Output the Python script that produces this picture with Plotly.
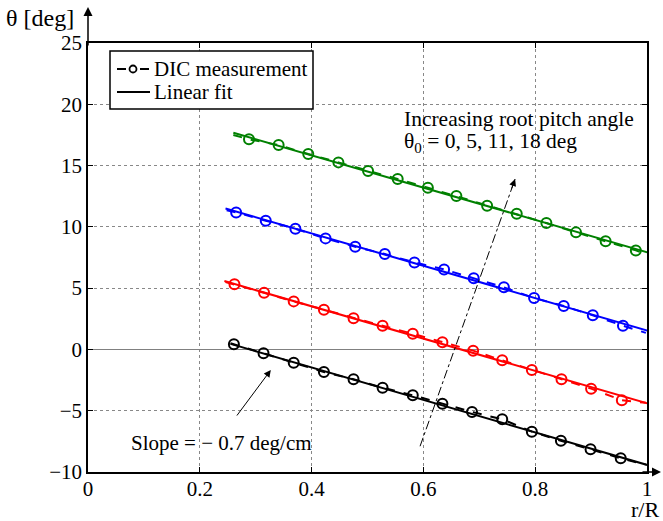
import plotly.graph_objects as go

# ---------------- data ----------------
series_names = ["0 deg", "5 deg", "11 deg", "18 deg"]
series_colors = ["#000000", "#ff0000", "#0000ff", "#008000"]

# DIC measurement marker positions (r/R) and values (deg)
x_black = [0.261, 0.314, 0.368, 0.422, 0.475, 0.527, 0.581, 0.634, 0.687, 0.741, 0.794, 0.846, 0.899, 0.953]
y_black = [0.42, -0.32, -1.08, -1.84, -2.44, -3.12, -3.74, -4.43, -5.10, -5.70, -6.71, -7.45, -8.15, -8.88]

x_red = [0.262, 0.315, 0.368, 0.422, 0.475, 0.527, 0.581, 0.634, 0.689, 0.741, 0.794, 0.847, 0.900, 0.955]
y_red = [5.31, 4.62, 3.92, 3.24, 2.54, 1.93, 1.28, 0.58, -0.10, -0.89, -1.68, -2.44, -3.20, -4.15]

x_blue = [0.265, 0.318, 0.371, 0.425, 0.478, 0.531, 0.584, 0.637, 0.690, 0.744, 0.798, 0.851, 0.903, 0.957]
y_blue = [11.18, 10.50, 9.85, 9.06, 8.38, 7.78, 7.10, 6.53, 5.80, 5.07, 4.19, 3.54, 2.78, 1.93]

x_green = [0.288, 0.341, 0.394, 0.448, 0.501, 0.554, 0.608, 0.659, 0.714, 0.767, 0.820, 0.873, 0.926, 0.980]
y_green = [17.14, 16.67, 15.94, 15.26, 14.55, 13.90, 13.19, 12.51, 11.72, 11.07, 10.31, 9.55, 8.82, 8.08]

# DIC measurement start / end of dense record (unmarked)
dic_x_start = [0.255, 0.246, 0.248, 0.260]
dic_y_start = [0.50, 5.50, 11.35, 17.50]
dic_x_end = [0.998, 0.998, 0.998, 0.998]
dic_y_end = [-9.40, -4.35, 1.35, 7.75]

# Linear fit end points
fit_x_start = [0.255, 0.244, 0.246, 0.260]
fit_y_start = [0.45, 5.58, 11.50, 17.68]
fit_x_end = [1.007, 1.007, 1.007, 1.007]
fit_y_end = [-9.51, -4.48, 1.45, 7.84]

# trend arrow (dash-dot) tail and head
trend_x = [0.594, 0.764]
trend_y = [-7.9, 13.9]

x_ticks = [0, 0.2, 0.4, 0.6, 0.8, 1]
x_tick_text = ["0", "0.2", "0.4", "0.6", "0.8", "1"]
y_ticks = [-10, -5, 0, 5, 10, 15, 20, 25]
y_tick_text = ["\u221210", "\u22125", "0", "5", "10", "15", "20", "25"]

legend_labels = ["DIC measurement", "Linear fit"]

marker_x = [x_black, x_red, x_blue, x_green]
marker_y = [y_black, y_red, y_blue, y_green]

FONT = "Liberation Serif, Times New Roman, serif"

# plot-area geometry (pixels) used for paper-coordinate placement of decorations
W, H = 663, 521
ML, MR, MT, MB = 88, 16, 43, 49
PW, PH = W - ML - MR, H - MT - MB


def px(xp):
    return (xp - ML) / PW


def py(yp):
    return (H - MB - yp) / PH


fig = go.Figure()

for i in range(4):
    c = series_colors[i]
    fig.add_trace(go.Scatter(
        x=[dic_x_start[i]] + marker_x[i] + [dic_x_end[i]],
        y=[dic_y_start[i]] + marker_y[i] + [dic_y_end[i]],
        mode="lines", line=dict(color=c, width=2, dash="dash"),
        showlegend=False, hoverinfo="skip"))
    fig.add_trace(go.Scatter(
        x=marker_x[i], y=marker_y[i], mode="markers",
        marker=dict(symbol="circle-open", size=10, color=c, line=dict(width=2, color=c)),
        showlegend=False, name=series_names[i]))
    fig.add_trace(go.Scatter(
        x=[fit_x_start[i], fit_x_end[i]], y=[fit_y_start[i], fit_y_end[i]],
        mode="lines", line=dict(color=c, width=2),
        showlegend=False, hoverinfo="skip", cliponaxis=False))

fig.add_trace(go.Scatter(x=trend_x, y=trend_y, mode="lines",
                         line=dict(color="black", width=1, dash="dashdot"),
                         showlegend=False, hoverinfo="skip"))

# ---------------- legend box (drawn) ----------------
shapes = [
    dict(type="rect", xref="paper", yref="paper", x0=px(110), x1=px(313), y0=py(109), y1=py(51),
         line=dict(color="black", width=1.5), fillcolor="white", layer="above"),
    dict(type="line", xref="paper", yref="paper", x0=px(117), x1=px(126), y0=py(69), y1=py(69),
         line=dict(color="black", width=2), layer="above"),
    dict(type="line", xref="paper", yref="paper", x0=px(140), x1=px(149), y0=py(69), y1=py(69),
         line=dict(color="black", width=2), layer="above"),
    dict(type="circle", xref="paper", yref="paper", x0=px(129.5), x1=px(136.5), y0=py(72.5), y1=py(65.5),
         line=dict(color="black", width=1.8), layer="above"),
    dict(type="line", xref="paper", yref="paper", x0=px(117), x1=px(150), y0=py(92), y1=py(92),
         line=dict(color="black", width=2), layer="above"),
]

annotations = [
    dict(x=px(152), y=py(69), xref="paper", yref="paper", xanchor="left", yanchor="middle",
         text=legend_labels[0], showarrow=False, font=dict(family=FONT, size=21, color="black")),
    dict(x=px(152), y=py(92), xref="paper", yref="paper", xanchor="left", yanchor="middle",
         text=legend_labels[1], showarrow=False, font=dict(family=FONT, size=21, color="black")),
    # trend arrow head
    dict(x=trend_x[1], y=trend_y[1], xref="x", yref="y", ax=-4, ay=11,
         showarrow=True, arrowhead=2, arrowsize=1.4, arrowwidth=1, arrowcolor="black", text=""),
    dict(x=px(402), y=py(119), xref="paper", yref="paper", xanchor="left", yanchor="middle",
         text="Increasing root pitch angle",
         showarrow=False, font=dict(family=FONT, size=21.5, color="black")),
    dict(x=px(402), y=py(142), xref="paper", yref="paper", xanchor="left", yanchor="middle",
         text="\u03b8<sub>0</sub> = 0, 5, 11, 18 deg",
         showarrow=False, font=dict(family=FONT, size=21.5, color="black")),
    # slope arrow
    dict(x=0.327, y=-1.68, xref="x", yref="y", ax=-35, ay=47,
         showarrow=True, arrowhead=2, arrowsize=1.4, arrowwidth=1, arrowcolor="black", text=""),
    dict(x=px(221), y=py(443), xref="paper", yref="paper", xanchor="center", yanchor="middle",
         text="Slope = \u2212 0.7 deg/cm", showarrow=False,
         font=dict(family=FONT, size=21, color="black")),
    # axis titles
    dict(x=px(40), y=py(18), xref="paper", yref="paper", xanchor="center", yanchor="middle",
         text="\u03b8 [deg]", showarrow=False, font=dict(family=FONT, size=24, color="black")),
    dict(x=px(661), y=py(510), xref="paper", yref="paper", xanchor="right", yanchor="middle",
         text="r/R", showarrow=False, font=dict(family=FONT, size=22, color="black")),
    # axis arrows
    dict(x=0, y=py(7), xref="paper", yref="paper", ax=0, ay=40,
         showarrow=True, arrowhead=2, arrowsize=1.2, arrowwidth=1.5, arrowcolor="black", text=""),
    dict(x=px(661), y=0, xref="paper", yref="paper", ax=-20, ay=0,
         showarrow=True, arrowhead=2, arrowsize=1.2, arrowwidth=1.5, arrowcolor="black", text=""),
]

fig.update_layout(
    width=W, height=H,
    margin=dict(l=ML, r=MR, t=MT, b=MB),
    paper_bgcolor="white", plot_bgcolor="white",
    font=dict(family=FONT, size=20, color="black"),
    showlegend=False,
    annotations=annotations,
    shapes=shapes,
)

fig.update_xaxes(range=[0, 1], tickvals=x_ticks, ticktext=x_tick_text,
                 showline=True, linecolor="black", linewidth=1.5, mirror="ticks",
                 ticks="inside", ticklen=5, tickcolor="black", ticklabelstandoff=-3,
                 showgrid=True, gridcolor="#888888", gridwidth=1, griddash="dot",
                 zeroline=False, tickfont=dict(family=FONT, size=21, color="black"))
fig.update_yaxes(range=[-10, 25], tickvals=y_ticks, ticktext=y_tick_text,
                 showline=True, linecolor="black", linewidth=1.5, mirror="ticks",
                 ticks="inside", ticklen=5, tickcolor="black",
                 showgrid=True, gridcolor="#888888", gridwidth=1, griddash="dot",
                 zeroline=True, zerolinecolor="#808080", zerolinewidth=1,
                 tickfont=dict(family=FONT, size=21, color="black"))

fig.write_html("out.html")
